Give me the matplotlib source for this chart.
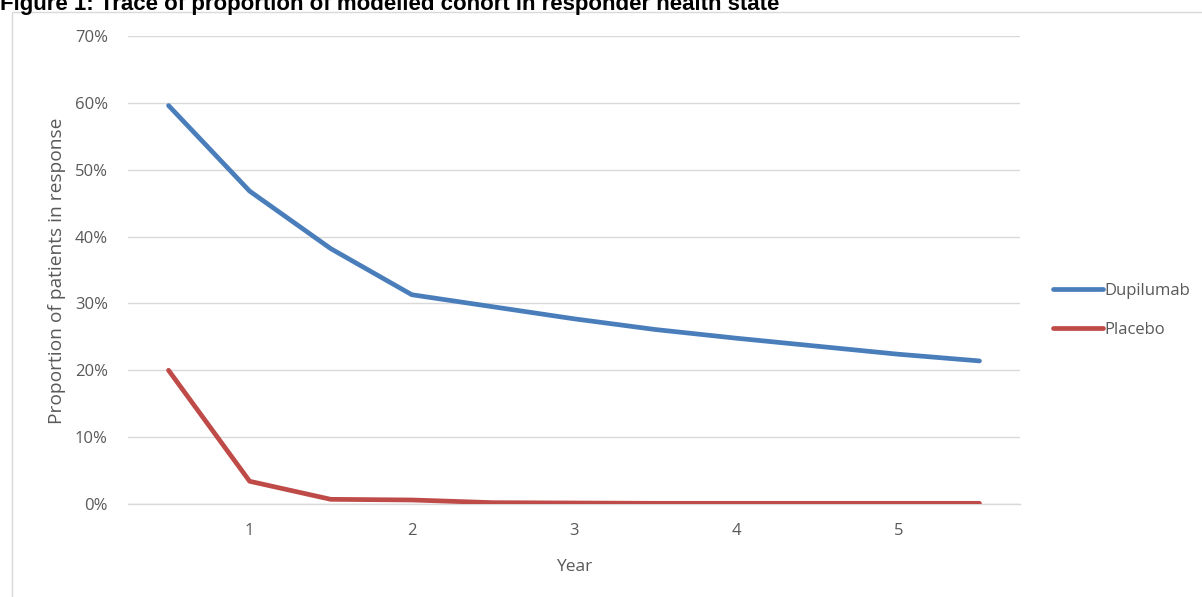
import matplotlib
matplotlib.use("Agg")
import matplotlib.pyplot as plt
from matplotlib.patches import Rectangle
from matplotlib.ticker import FuncFormatter, FixedLocator

# ---- data ----
years = [0.5, 1.0, 1.5, 2.0, 2.5, 3.0, 3.5, 4.0, 4.5, 5.0, 5.5]
dupilumab = [59.6, 46.8, 38.2, 31.3, 29.5, 27.7, 26.1, 24.8, 23.6, 22.4, 21.4]
placebo = [20.0, 3.4, 0.7, 0.6, 0.2, 0.15, 0.1, 0.1, 0.1, 0.1, 0.1]
series_names = ["Dupilumab", "Placebo"]
year_ticks = [1, 2, 3, 4, 5]
y_ticks = [0, 10, 20, 30, 40, 50, 60, 70]
title = "Figure 1: Trace of proportion of modelled cohort in responder health state"
xlabel = "Year"
ylabel = "Proportion of patients in response"

W, H = 1202, 597
fig = plt.figure(figsize=(W / 100, H / 100), dpi=100)
fig.patch.set_facecolor("white")

def fx(px):
    return px / W

def fy(py):
    return 1 - py / H

FONT = "Open Sans"
GREY = "#595959"

# chart area border (Excel style), clipped at the right/bottom
fig.patches.append(Rectangle((fx(12), -0.1), 2.0, fy(12) + 0.1, transform=fig.transFigure,
                             fill=False, ec="#D9D9D9", lw=1.0))

# title (partially cut at top, as in the source)
fig.text(fx(0), fy(10), title, ha="left", va="baseline", fontsize=16,
         fontweight="bold", family="Liberation Sans", color="black")

left, right, top, bottom = 128, 1020, 36, 504
ax = fig.add_axes([fx(left), fy(bottom), fx(right) - fx(left), fy(top) - fy(bottom)])

blue = "#4A7EBB"
red = "#BE4B48"
ax.plot(years, dupilumab, color=blue, lw=3.4, solid_capstyle="round", label=series_names[0], zorder=3)
ax.plot(years, placebo, color=red, lw=3.4, solid_capstyle="round", label=series_names[1], zorder=3)

ax.set_xlim(0.25, 5.75)
ax.set_ylim(0, 70)
ax.yaxis.set_major_locator(FixedLocator(y_ticks))
ax.yaxis.set_major_formatter(FuncFormatter(lambda v, p: f"{int(round(v))}%"))
ax.set_xticks(year_ticks)
ax.set_xticklabels([str(y) for y in year_ticks])

ax.grid(axis="y", color="#D9D9D9", lw=1.0)
ax.set_axisbelow(True)
for s in ["top", "right", "left"]:
    ax.spines[s].set_visible(False)
ax.spines["bottom"].set_color("#D9D9D9")
ax.spines["bottom"].set_linewidth(1.0)

ax.tick_params(axis="both", length=0, labelsize=12, labelcolor=GREY)
ax.tick_params(axis="y", pad=14.5)
ax.tick_params(axis="x", pad=14)
for lab in ax.get_xticklabels() + ax.get_yticklabels():
    lab.set_family(FONT)

ax.set_xlabel(xlabel, family=FONT, fontsize=12.5, color=GREY, labelpad=14)
fig.text(fx(57), fy(271), ylabel, rotation=90, ha="center", va="center",
         family=FONT, fontsize=13.8, color=GREY)

leg = fig.legend(loc="upper left", bbox_to_anchor=(fx(1053), fy(283)),
                 bbox_transform=fig.transFigure, frameon=False,
                 prop=dict(family=FONT, size=12), handlelength=3.0,
                 handletextpad=0.1, borderpad=0, borderaxespad=0, labelspacing=1.35)
for t in leg.get_texts():
    t.set_color(GREY)

fig.savefig("out.png", dpi=100, facecolor="white")
